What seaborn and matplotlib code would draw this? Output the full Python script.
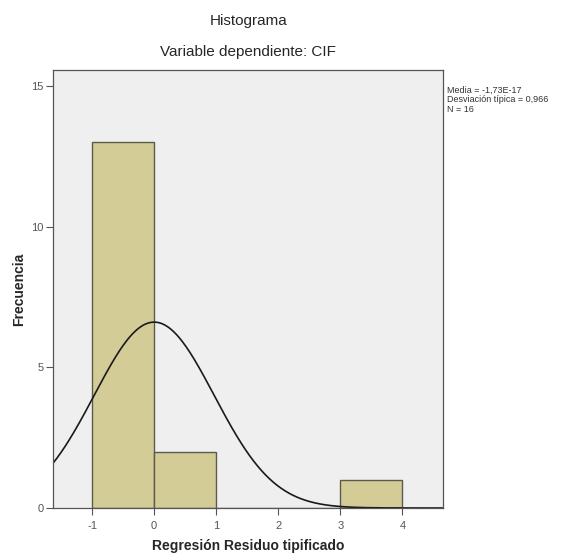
import numpy as np
import pandas as pd
import matplotlib.pyplot as plt
import seaborn as sns

bin_edges = [-1, 0, 1, 2, 3, 4]
bin_counts = [13, 2, 0, 0, 1]
media = -1.73e-17
desv = 0.966
n = 16

sns.set_style("white")
plt.rcParams["font.family"] = ["Liberation Sans", "DejaVu Sans"]
plt.rcParams["axes.unicode_minus"] = False

df = pd.DataFrame({
    "centro": [(a + b) / 2 for a, b in zip(bin_edges[:-1], bin_edges[1:])],
    "frec": bin_counts,
})

fig = plt.figure(figsize=(5.64, 5.58), dpi=100)
ax = fig.add_axes([0.094, 0.0896, 0.691, 0.785])
ax.set_facecolor("#efefef")

sns.histplot(data=df, x="centro", weights="frec", bins=bin_edges, ax=ax,
             color="#d3cc96", edgecolor="#5b5b4c", linewidth=1.0, alpha=1)

# curva normal
xs = np.linspace(-1.63, 4.65, 300)
ys = n * 1.0 * np.exp(-0.5 * ((xs - media) / desv) ** 2) / (desv * np.sqrt(2 * np.pi))
ax.plot(xs, ys, color="#1a1a1a", linewidth=1.2)

ax.set_xlim(-1.63, 4.65)
ax.set_ylim(0, 15.57)
ax.set_xticks([-1, 0, 1, 2, 3, 4])
ax.set_yticks([0, 5, 10, 15])
ax.tick_params(axis="both", direction="out", length=5, width=0.8, colors="#555555",
               labelsize=8, labelcolor="#555555", bottom=True, left=True)
ax.tick_params(axis="x", pad=4)
ax.tick_params(axis="y", pad=2)
for s in ax.spines.values():
    s.set_color("#555555")
    s.set_linewidth(0.9)

ax.set_xlabel("Regresión Residuo tipificado", fontsize=10, fontweight="bold")
ax.xaxis.set_label_coords(0.5, -0.07)
ax.set_ylabel("Frecuencia", fontsize=10, fontweight="bold")
ax.yaxis.set_label_coords(-0.07, 0.5)

fig.text(0.44, 0.963, "Histograma", ha="center", va="center", fontsize=11)
fig.text(0.44, 0.906, "Variable dependiente: CIF", ha="center", va="center", fontsize=11)

fig.text(0.793, 0.847,
         "Media = -1,73E-17\nDesviación típica = 0,966\nN = 16",
         ha="left", va="top", fontsize=6.5, color="#333333", linespacing=1.1)

fig.savefig("out.png", dpi=100, facecolor="white")
